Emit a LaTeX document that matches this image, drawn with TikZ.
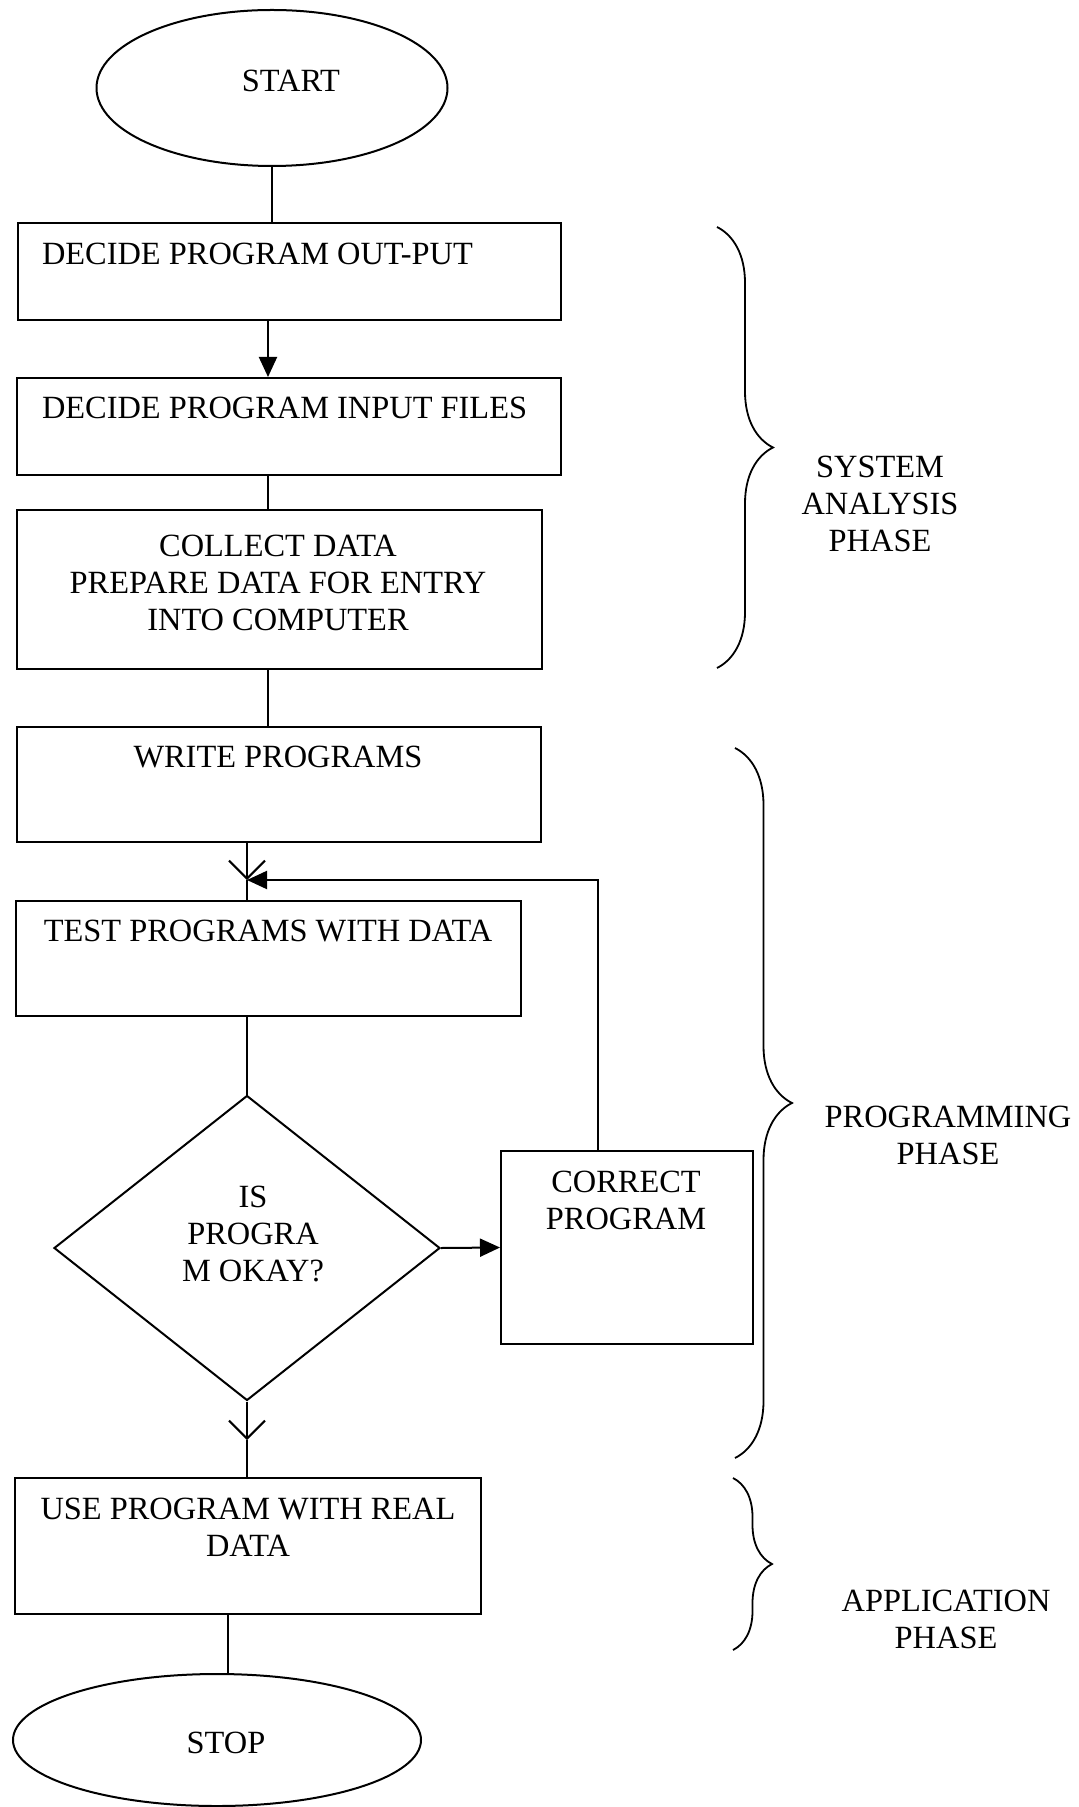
\documentclass[tikz,border=0pt]{standalone}
\usepackage{fontspec}
\setmainfont{Liberation Serif}
\usepackage{tikz}
\usetikzlibrary{shapes.geometric,arrows.meta,decorations.pathreplacing}

\begin{document}
\begin{tikzpicture}[x=0.5pt,y=-0.5pt,line width=1pt,
        stepbox/.style={draw,rectangle,inner sep=0pt},
        term/.style={draw,ellipse,inner sep=0pt},
        query/.style={draw,diamond,inner sep=0pt},
        txt/.style={inner sep=0pt,align=center,font=\fontsize{16.2}{18.5}\selectfont},
        fwd/.style={-{Triangle[length=10pt,width=9pt]}},
        joinarrow/.style={-{Straight Barb[length=9pt,width=18pt]}},
        phase/.style={decorate,line width=0.9pt,decoration={brace,amplitude=#1}}]
    \useasboundingbox (0,0) rectangle (1078,1807);
    % shapes
    \node [term,minimum width=175.5pt,minimum height=78pt]    (start) at (272,88)      {};
    \node [stepbox,minimum width=271.5pt,minimum height=48.5pt] (out) at (289.5,271.5) {};
    \node [stepbox,minimum width=272pt,minimum height=48.5pt] (inp)   at (289,426.5)   {};
    \node [stepbox,minimum width=262.5pt,minimum height=79.5pt] (coll) at (279.5,589.5) {};
    \node [stepbox,minimum width=262pt,minimum height=57.5pt] (write) at (279,784.5)   {};
    \node [stepbox,minimum width=252.5pt,minimum height=57.5pt] (test) at (268.5,958.5) {};
    \node [query,minimum width=193pt,minimum height=152.5pt]  (okay)  at (247,1248)    {};
    \node [stepbox,minimum width=126pt,minimum height=96.5pt] (corr)  at (627,1247.5)  {};
    \node [stepbox,minimum width=233pt,minimum height=68pt]   (use)   at (248,1546)    {};
    \node [term,minimum width=204pt,minimum height=66pt]      (stop)  at (217,1740)    {};
    % texts
    \node [txt]             (startt) at (291,81)     {START};
    \node [txt,anchor=west] (outt)   at (41,254)     {DECIDE PROGRAM OUT-PUT};
    \node [txt,anchor=west] (inpt)   at (41,408)     {DECIDE PROGRAM INPUT FILES};
    \node [txt]             (collt)  at (278,582.5)  {COLLECT DATA\\PREPARE DATA FOR ENTRY\\INTO COMPUTER};
    \node [txt]             (writet) at (278,757)    {WRITE PROGRAMS};
    \node [txt]             (testt)  at (268,931)    {TEST PROGRAMS WITH DATA};
    \node [txt]             (okayt)  at (253,1234)   {IS\\PROGRA\\M OKAY?};
    \node [txt]             (corrt)  at (626,1200)   {CORRECT\\PROGRAM};
    \node [txt]             (uset)   at (248,1527.5) {USE PROGRAM WITH REAL\\DATA};
    \node [txt]             (stopt)  at (226,1743)   {STOP};
    % connectors
    \coordinate (upper) at (268,0);
    \coordinate (back)  at (598,0);
    \coordinate (lower) at (228,0);
    \coordinate (j1)    at (247,880);
    \coordinate (j2)    at (247,1440);
    \draw (start.south) -- (start.south |- out.north);
    \draw [fwd] (out.south -| upper) -- (inp.north -| upper);
    \draw (inp.south -| upper) -- (coll.north -| upper);
    \draw (coll.south -| upper) -- (write.north -| upper);
    \draw [joinarrow] (write.south -| j1) -- (j1);
    \draw (j1) -- (test.north -| j1);
    \draw [fwd] (corr.north -| back) |- (j1);
    \draw (test.south -| j1) -- (okay.north);
    \draw [fwd] (okay.east) -- (corr.west);
    \draw [joinarrow] (okay.south) -- (j2);
    \draw (j2) -- (use.north -| j2);
    \draw (use.south -| lower) -- (stop.north -| lower);
    % phases
    \draw [phase=28pt]   (717,227)  -- (717,668);
    \draw [phase=28.5pt] (735,748)  -- (735,1458);
    \draw [phase=19.5pt] (733,1478) -- (733,1650);
    \node [txt] (sysl)  at (880,504)    {SYSTEM\\ANALYSIS\\PHASE};
    \node [txt] (progl) at (948,1135.5) {PROGRAMMING\\PHASE};
    \node [txt] (appl)  at (946,1619.5) {APPLICATION\\PHASE};
\end{tikzpicture}
\end{document}
